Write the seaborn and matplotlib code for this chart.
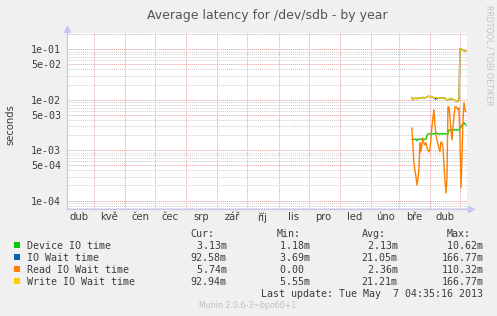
import numpy as np
import pandas as pd
import matplotlib
matplotlib.use("Agg")
import matplotlib.pyplot as plt
import matplotlib.transforms as mtrans
from matplotlib.ticker import FixedLocator, NullFormatter
from matplotlib.patches import Rectangle
import seaborn as sns

# ---------------- data ----------------
title = "Average latency for /dev/sdb - by year"
ylabel = "seconds"
series_names = ["Device IO time", "IO Wait time", "Read IO Wait time", "Write IO Wait time"]
series_colors = ["#00CC00", "#0066B3", "#FF8000", "#FFCC00"]

dates = pd.date_range("2013-03-14", "2013-05-07", freq="D")

device_io = [1.65e-3, 1.66e-3, 1.65e-3, 1.64e-3, 1.65e-3, 1.55e-3, 1.64e-3, 1.65e-3, 1.66e-3, 1.65e-3,
             1.65e-3, 1.64e-3, 1.65e-3, 1.66e-3, 1.65e-3, 1.92e-3, 2.10e-3, 2.11e-3, 2.12e-3, 2.11e-3,
             2.10e-3, 2.11e-3, 2.12e-3, 2.11e-3, 2.23e-3, 2.15e-3, 2.11e-3, 2.10e-3, 2.11e-3, 2.12e-3,
             2.11e-3, 2.10e-3, 2.11e-3, 2.11e-3, 2.12e-3, 2.11e-3, 2.11e-3, 2.52e-3, 2.53e-3, 2.54e-3,
             2.53e-3, 2.52e-3, 2.53e-3, 2.54e-3, 2.53e-3, 2.53e-3, 2.52e-3, 2.53e-3, 2.65e-3, 2.90e-3,
             3.18e-3, 3.32e-3, 3.48e-3, 3.32e-3, 3.13e-3]

io_wait = [1.116e-2, 9.95e-3, 1.042e-2, 1.066e-2, 1.091e-2, 1.042e-2, 1.066e-2, 1.091e-2, 1.091e-2, 1.066e-2,
           1.091e-2, 1.116e-2, 1.091e-2, 1.091e-2, 1.116e-2, 1.141e-2, 1.168e-2, 1.168e-2, 1.141e-2, 1.168e-2,
           1.141e-2, 1.116e-2, 1.091e-2, 1.080e-2, 1.030e-2, 1.050e-2, 1.091e-2, 1.091e-2, 1.066e-2, 1.091e-2,
           1.091e-2, 1.066e-2, 1.091e-2, 1.066e-2, 1.042e-2, 9.95e-3, 9.73e-3, 1.018e-2, 1.020e-2, 1.066e-2,
           1.042e-2, 1.018e-2, 9.95e-3, 9.73e-3, 9.51e-3, 9.51e-3, 9.30e-3, 9.73e-3, 1.023e-1, 1.023e-1,
           9.77e-2, 9.55e-2, 9.34e-2, 9.34e-2, 9.26e-2]

read_io_wait = [2.77e-3, 1.27e-3, 5.86e-4, 4.06e-4, 3.09e-4, 2.05e-4, 2.58e-4, 4.06e-4, 1.40e-3, 9.25e-4,
                1.27e-3, 1.75e-3, 1.40e-3, 1.27e-3, 1.40e-3, 1.16e-3, 1.01e-3, 9.25e-4, 1.01e-3, 1.60e-3,
                2.90e-3, 4.37e-3, 6.30e-3, 3.18e-3, 2.01e-3, 1.60e-3, 1.33e-3, 1.11e-3, 9.25e-4, 1.46e-3,
                1.40e-3, 1.22e-3, 5.11e-4, 2.58e-4, 1.42e-4, 2.58e-4, 7.23e-3, 7.23e-3, 4.37e-3, 2.53e-3,
                1.60e-3, 2.90e-3, 4.58e-3, 7.23e-3, 7.23e-3, 6.90e-3, 6.30e-3, 6.90e-3, 1.60e-3, 1.79e-4,
                7.36e-4, 3.99e-3, 8.68e-3, 6.30e-3, 5.74e-3]

write_io_wait = [1.116e-2, 9.95e-3, 1.042e-2, 1.066e-2, 1.091e-2, 1.042e-2, 1.066e-2, 1.091e-2, 1.091e-2, 1.066e-2,
                 1.091e-2, 1.116e-2, 1.091e-2, 1.091e-2, 1.116e-2, 1.141e-2, 1.168e-2, 1.168e-2, 1.141e-2, 1.168e-2,
                 1.141e-2, 1.116e-2, 1.091e-2, 1.116e-2, 1.116e-2, 1.091e-2, 1.091e-2, 1.091e-2, 1.066e-2, 1.091e-2,
                 1.091e-2, 1.066e-2, 1.091e-2, 1.066e-2, 1.042e-2, 9.95e-3, 9.73e-3, 1.018e-2, 1.066e-2, 1.066e-2,
                 1.042e-2, 1.018e-2, 9.95e-3, 9.73e-3, 9.51e-3, 9.51e-3, 9.30e-3, 9.73e-3, 1.023e-1, 1.023e-1,
                 9.77e-2, 9.55e-2, 9.34e-2, 9.34e-2, 9.29e-2]

month_labels = ["dub", "kvě", "čen", "čec", "srp", "zář", "říj", "lis", "pro", "led", "úno", "bře", "dub"]
ytick_values = [1e-1, 5e-2, 1e-2, 5e-3, 1e-3, 5e-4, 1e-4]
ytick_labels = ["1e-01", "5e-02", "1e-02", "5e-03", "1e-03", "5e-04", "1e-04"]

col_headers = ["Cur:", "Min:", "Avg:", "Max:"]
cur_vals = [" 3.13m", "92.58m", " 5.74m", "92.94m"]
min_vals = [" 1.18m", " 3.69m", " 0.00", " 5.55m"]
avg_vals = [" 2.13m", "21.05m", " 2.36m", "21.21m"]
max_vals = [" 10.62m", "166.77m", "110.32m", "166.77m"]
last_update = "Last update: Tue May  7 04:35:16 2013"
footer = "Munin 2.0.6-3~bpo60+1"
watermark = "RRDTOOL / TOBI OETIKER"

# ---------------- figure ----------------
sns.set_theme(style="white")
plt.rcParams["font.family"] = ["DejaVu Sans"]

W, H = 497, 316
BG = "#F0F0F0"
TXT = "#3c3c3c"
AXC = "#c4c8f2"
MAJ = "#eaa0a0"
MIN = "#cfcfcf"

fig = plt.figure(figsize=(W / 100, H / 100), dpi=100, facecolor=BG)
L, R, T, B = 67, 467, 32.5, 209
ax = fig.add_axes([L / W, 1 - B / H, (R - L) / W, (B - T) / H])
ax.set_facecolor("white")

df = pd.concat([
    pd.DataFrame({"date": dates, "value": vals, "series": name})
    for name, vals in zip(series_names, [device_io, io_wait, read_io_wait, write_io_wait])
], ignore_index=True)

sns.lineplot(data=df, x="date", y="value", hue="series", hue_order=series_names,
             palette=series_colors, linewidth=1.0, legend=False, estimator=None, ax=ax, zorder=3)

ax.set_yscale("log")
ax.set_ylim(6.84e-5, 0.215)
ax.set_xlim(pd.Timestamp("2012-04-04"), pd.Timestamp("2013-05-08"))
ax.set_xlabel("")
ax.set_ylabel("")

# y ticks
ax.yaxis.set_major_locator(FixedLocator(ytick_values))
ax.set_yticklabels(ytick_labels, fontfamily="DejaVu Sans Mono", fontsize=7.2, color=TXT)
minor_y = [k * 10.0 ** n for n in range(-5, 0) for k in (2, 3, 4, 6, 7, 8, 9)] + [2e-1]
ax.yaxis.set_minor_locator(FixedLocator(minor_y))
ax.yaxis.set_minor_formatter(NullFormatter())
ax.tick_params(axis="y", which="both", length=0, pad=4.3)

# x ticks: month starts (grid) and mid-month labels
month_starts = pd.date_range("2012-05-01", "2013-05-01", freq="MS")
label_pos = pd.date_range("2012-04-01", "2013-04-01", freq="MS") + pd.Timedelta(days=15)
ax.set_xticks(month_starts)
ax.set_xticklabels([""] * len(month_starts))
ax.set_xticks(label_pos, minor=True)
ax.set_xticklabels(month_labels, minor=True, fontsize=7.2, color=TXT)
ax.tick_params(axis="x", which="major", length=2, width=0.7, color=MAJ, direction="out")
ax.tick_params(axis="x", which="minor", length=0, pad=2.2)

ax.xaxis.grid(True, which="major", color=MAJ, linestyle=(0, (1, 1)), linewidth=0.7)
ax.yaxis.grid(True, which="major", color=MAJ, linestyle=(0, (1, 1)), linewidth=0.7)
ax.yaxis.grid(True, which="minor", color=MIN, linestyle=(0, (1, 1)), linewidth=0.7)
ax.xaxis.grid(False, which="minor")
ax.set_axisbelow(True)

for s in ["top", "right"]:
    ax.spines[s].set_visible(False)
for s in ["left", "bottom"]:
    ax.spines[s].set_color(AXC)
    ax.spines[s].set_linewidth(0.9)

# axis arrows
up = mtrans.offset_copy(ax.transAxes, fig=fig, x=0, y=3.5, units="dots")
rt = mtrans.offset_copy(ax.transAxes, fig=fig, x=3.5, y=0, units="dots")
ax.plot([0], [1], marker="^", ms=4, color=AXC, transform=up, clip_on=False)
ax.plot([1], [0], marker=">", ms=4, color=AXC, transform=rt, clip_on=False)

# ---------------- texts ----------------
def fx(px):
    return px / W

def fy(py):
    return 1 - py / H

fig.text(fx(267.5), fy(18.5), title, ha="center", va="baseline", fontsize=9, color="#555555")
fig.text(fx(10), fy(125), ylabel, ha="center", va="center", rotation=90, fontsize=7.2, color=TXT)
fig.text(fx(488.5), fy(5), watermark, ha="center", va="top", rotation=270, fontsize=5.7, color="#c4c4c4")

mono = dict(fontfamily="DejaVu Sans Mono", fontsize=7.2, color=TXT, va="baseline")
header_x = [190.7, 276.7, 361.7, 446.7]
for hx, h in zip(header_x, col_headers):
    fig.text(fx(hx), fy(236.7), h, ha="left", **mono)

row_y = [249, 261, 273, 285]
col_x = [190.7, 274.0, 361.7, 441.3]
for i, (name, color) in enumerate(zip(series_names, series_colors)):
    yb = row_y[i]
    fig.patches.append(Rectangle((fx(14), fy(yb - 0.7)), 6 / W, 6 / H, transform=fig.transFigure,
                                 facecolor=color, edgecolor="none"))
    fig.text(fx(26.7), fy(yb), name, ha="left", **mono)
    for cx, col in zip(col_x, [cur_vals, min_vals, avg_vals, max_vals]):
        fig.text(fx(cx), fy(yb), col[i], ha="left", **mono)

fig.text(fx(483.3), fy(297.3), last_update, ha="right", **mono)
fig.text(fx(248), fy(308.3), footer, ha="center", va="baseline", fontsize=5.7, color="#c0c0c0")

fig.savefig("out.png", dpi=100, facecolor=BG)
